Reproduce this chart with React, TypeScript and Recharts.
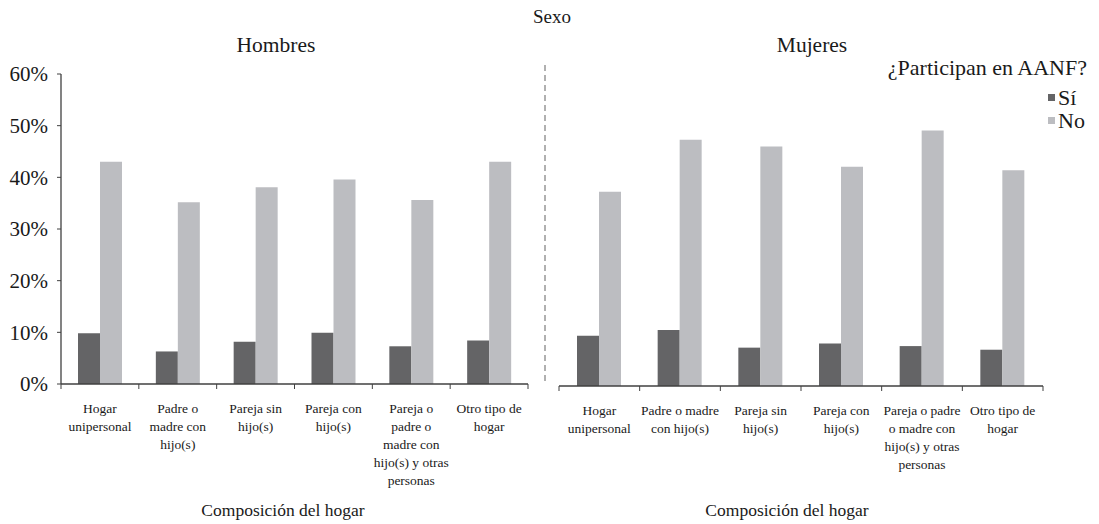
import React from 'react'
import { BarChart, Bar, XAxis, YAxis } from 'recharts'

const categories = [
  'Hogar unipersonal',
  'Padre o madre con hijo(s)',
  'Pareja sin hijo(s)',
  'Pareja con hijo(s)',
  'Pareja o padre o madre con hijo(s) y otras personas',
  'Otro tipo de hogar',
]

// tick labels, broken into lines as in the original
const hombresLabels = [
  ['Hogar', 'unipersonal'],
  ['Padre o', 'madre con', 'hijo(s)'],
  ['Pareja sin', 'hijo(s)'],
  ['Pareja con', 'hijo(s)'],
  ['Pareja o', 'padre o', 'madre con', 'hijo(s) y otras', 'personas'],
  ['Otro tipo de', 'hogar'],
]
const mujeresLabels = [
  ['Hogar', 'unipersonal'],
  ['Padre o madre', 'con hijo(s)'],
  ['Pareja sin', 'hijo(s)'],
  ['Pareja con', 'hijo(s)'],
  ['Pareja o padre', 'o madre con', 'hijo(s) y otras', 'personas'],
  ['Otro tipo de', 'hogar'],
]

const hombresSi = [9.8, 6.3, 8.2, 9.9, 7.3, 8.4]
const hombresNo = [43.0, 35.2, 38.1, 39.6, 35.6, 43.0]
const mujeresSi = [9.7, 10.8, 7.4, 8.2, 7.7, 7.0]
const mujeresNo = [37.5, 47.5, 46.2, 42.3, 49.3, 41.6]

const yTicks = [0, 10, 20, 30, 40, 50, 60]

const FONT = '"Liberation Serif", "Times New Roman", serif'
const TEXT = '#1a1a1a'
const AXIS = '#404040'
const DARK = '#646466'
const LIGHT = '#bcbdc1'

const hombresData = categories.map((c, i) => ({ cat: c, si: hombresSi[i], no: hombresNo[i] }))
const mujeresData = categories.map((c, i) => ({ cat: c, si: mujeresSi[i], no: mujeresNo[i] }))

const makeTick = (lines: string[][], bw: number) => (props: any) => {
  const { x, y, index } = props
  const left = x - bw / 2
  return (
    <g>
      <line x1={left} x2={left} y1={y} y2={y + 5} stroke={AXIS} />
      {index === lines.length - 1 && (
        <line x1={x + bw / 2} x2={x + bw / 2} y1={y} y2={y + 5} stroke={AXIS} />
      )}
      <text x={x} y={y + 29} textAnchor="middle" fontSize={13.5} style={{ fontFamily: FONT }} fill={TEXT}>
        {lines[index].map((l, i) => (
          <tspan key={i} x={x} dy={i === 0 ? 0 : 18}>{l}</tspan>
        ))}
      </text>
    </g>
  )
}

function Panel({ data, labels, width, marginLeft, marginRight, top, bottom, showY }: any) {
  const bw = (width - marginLeft - marginRight - (showY ? 61 : 0)) / categories.length
  return (
    <BarChart
      width={width}
      height={524}
      data={data}
      margin={{ top, right: marginRight, left: marginLeft, bottom }}
      barGap={0}
    >
      <XAxis
        dataKey="cat"
        interval={0}
        tickLine={false}
        tickSize={0}
        tickMargin={0}
        axisLine={{ stroke: AXIS, strokeWidth: 1.3 }}
        tick={makeTick(labels, bw)}
        height={30}
      />
      <YAxis
        hide={!showY}
        width={61}
        domain={[0, 60]}
        ticks={yTicks}
        tickFormatter={(v: number) => `${v}%`}
        tickSize={4}
        tickMargin={9}
        tickLine={{ stroke: AXIS }}
        axisLine={{ stroke: AXIS, strokeWidth: 1.3 }}
        tick={{ fill: TEXT, fontSize: 21, style: { fontFamily: FONT } }}
      />
      <Bar dataKey="si" fill={DARK} barSize={22} isAnimationActive={false} />
      <Bar dataKey="no" fill={LIGHT} barSize={22} isAnimationActive={false} />
    </BarChart>
  )
}

export default function App() {
  return (
    <div style={{ position: 'absolute', left: 0, top: 0, width: 1099, height: 524, background: '#fff', fontFamily: FONT }}>
      <div style={{ position: 'absolute', left: 0, top: 0 }}>
        <Panel data={hombresData} labels={hombresLabels} width={540} marginLeft={0} marginRight={12} top={74} bottom={110} showY />
      </div>
      <div style={{ position: 'absolute', left: 549, top: 0 }}>
        <Panel data={mujeresData} labels={mujeresLabels} width={500} marginLeft={10} marginRight={6} top={75} bottom={108} showY={false} />
      </div>
      <svg width={1099} height={524} style={{ position: 'absolute', left: 0, top: 0, pointerEvents: 'none', fontFamily: FONT }}>
        <line x1={545} x2={545} y1={65} y2={381} stroke="#b0b0b0" strokeWidth={2} strokeDasharray="6 4" />
        <g fill={TEXT}>
          <text x={552} y={23} textAnchor="middle" fontSize={19}>Sexo</text>
          <text x={276} y={52} textAnchor="middle" fontSize={21.5}>Hombres</text>
          <text x={812} y={52} textAnchor="middle" fontSize={21.5}>Mujeres</text>
          <text x={1087} y={75} textAnchor="end" fontSize={22}>¿Participan en AANF?</text>
          <rect x={1048} y={94} width={7} height={7} fill={DARK} />
          <text x={1058} y={105} fontSize={22}>Sí</text>
          <rect x={1048} y={117} width={7} height={7} fill={LIGHT} />
          <text x={1058} y={128} fontSize={22}>No</text>
          <text x={283} y={516} textAnchor="middle" fontSize={17.5}>Composición del hogar</text>
          <text x={787} y={516} textAnchor="middle" fontSize={17.5}>Composición del hogar</text>
        </g>
      </svg>
    </div>
  )
}
